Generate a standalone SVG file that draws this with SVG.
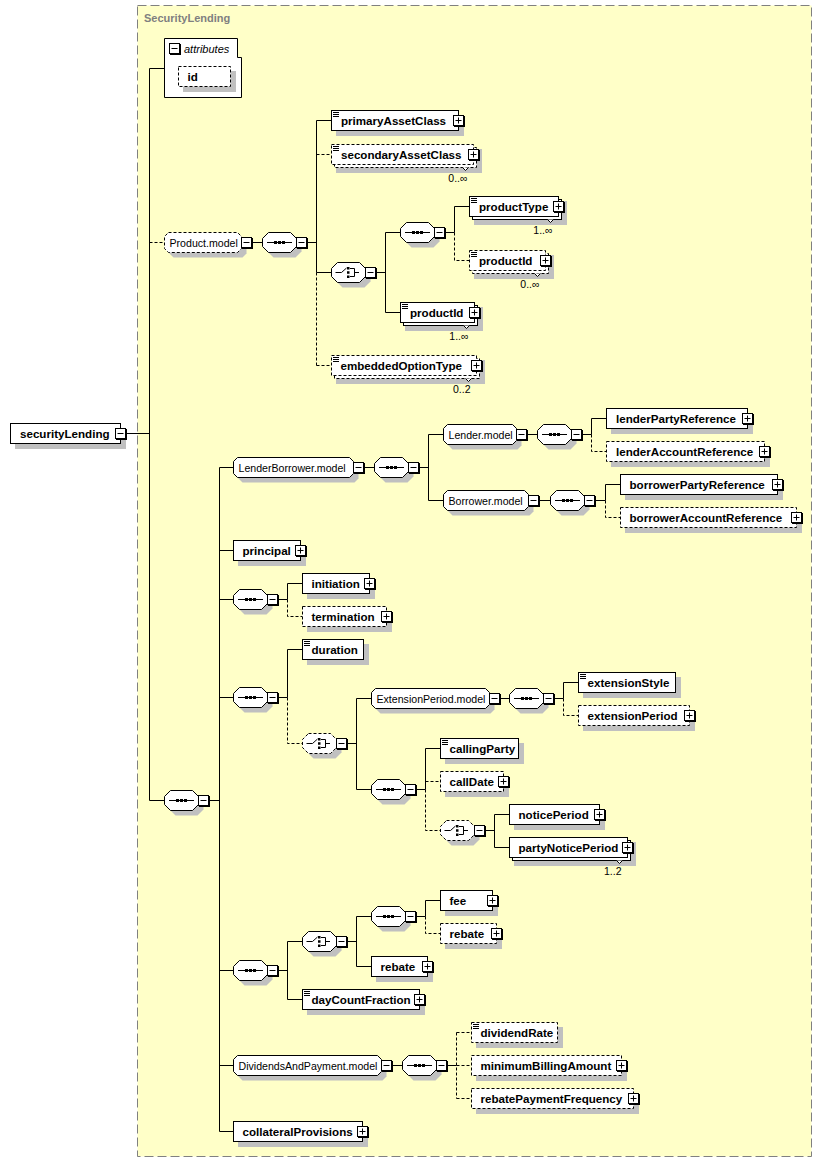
<svg xmlns="http://www.w3.org/2000/svg" width="823" height="1163" viewBox="0 0 823 1163">
<style>
.bg{fill:#fff}
.frame{fill:#ffffc8;stroke:#808080;stroke-dasharray:9 4}
.sh{fill:#c0c0c0}
.b{fill:#fff;stroke:#000}
.db{fill:#fff;stroke:#000;stroke-dasharray:3 2}
.c{fill:none;stroke:#000}
.dc{fill:none;stroke:#000;stroke-dasharray:3 2}
.ic{fill:none;stroke:#000}
.t{font-family:"Liberation Sans",Arial,sans-serif;font-weight:bold;font-size:11.6px;fill:#000}
.g{font-family:"Liberation Sans",Arial,sans-serif;font-size:10.6px;fill:#000}
.o{font-family:"Liberation Sans",Arial,sans-serif;font-size:10.5px;fill:#000;text-anchor:end}
.ti{font-family:"Liberation Sans",Arial,sans-serif;font-weight:bold;font-size:11px;fill:#808080}
.it{font-family:"Liberation Sans",Arial,sans-serif;font-style:italic;font-size:11px;fill:#000}
</style>
<defs>
<g id="minus"><rect x="1" y="1" width="11" height="11" fill="#000"/><rect x="0.5" y="0.5" width="10" height="10" fill="#fff" stroke="#000"/><path class="ic" d="M2.5,5.5H8.5"/></g>
<g id="plus"><rect x="1" y="1" width="11" height="11" fill="#000"/><rect x="0.5" y="0.5" width="10" height="10" fill="#fff" stroke="#000"/><path class="ic" d="M2.5,5.5H8.5M5.5,2.5V8.5"/></g>
<path id="eq" class="ic" d="M2,2.5H8M2,4.5H8M2,6.5H8"/>
<polygon id="octp" points="6.5,0.5 28.5,0.5 34.5,6.5 34.5,14.5 28.5,20.5 6.5,20.5 0.5,14.5 0.5,6.5"/>
<g id="seqicon"><path class="ic" d="M5,10.5H30"/><rect x="12" y="9" width="3" height="3"/><rect x="16" y="9" width="3" height="3"/><rect x="20" y="9" width="3" height="3"/></g>
<g id="choiceicon"><path class="ic" d="M4.5,10.5H10.5L15.5,6"/><rect x="16" y="5" width="2.5" height="2.5"/><rect x="16" y="9.25" width="2.5" height="2.5"/><rect x="16" y="13.5" width="2.5" height="2.5"/><path class="ic" d="M19,6.5H23.5V14.5H19M23.5,10.5H28"/></g>
<g id="seq"><use href="#octp" class="sh" transform="translate(5,5)"/><use href="#octp" class="b"/><use href="#seqicon"/><use href="#minus" x="34" y="5"/></g>
<g id="choice"><use href="#octp" class="sh" transform="translate(5,5)"/><use href="#octp" class="b"/><use href="#choiceicon"/><use href="#minus" x="34" y="5"/></g>
<g id="choiced"><use href="#octp" class="sh" transform="translate(5,5)"/><use href="#octp" class="db"/><use href="#choiceicon"/><use href="#minus" x="34" y="5"/></g>
</defs>
<rect class="bg" x="0" y="0" width="823" height="1163"/>
<g id="SecurityLending-type">
<rect class="frame" x="137.5" y="5.5" width="674" height="1151"/>
<text class="ti" x="144" y="22">SecurityLending</text>
</g>

<g id="connectors">
<path class="c" d="M126,433.5H149.5M149.5,68.5V800.5M149.5,68.5H164.5M149.5,800.5H164.5"/>
<path class="dc" d="M149.5,242.5H164.5"/>
<path class="c" d="M252,242.5H262.5M307,242.5H316.5M316.5,120.5V272.5M316.5,120.5H331.5M316.5,272.5H331.5"/>
<path class="dc" d="M316.5,272.5V365.5M316.5,154.5H331.5M316.5,365.5H331.5"/>
<path class="c" d="M376,272.5H385.5M385.5,232.5V312.5M385.5,232.5H400.5M385.5,312.5H400.5"/>
<path class="c" d="M446,232.5H454.5M454.5,206.5V232.5M454.5,206.5H469.5"/>
<path class="dc" d="M454.5,232.5V260.5H469.5"/>
<path class="c" d="M209,800.5H219.5M219.5,467.5V1131.5M219.5,467.5H233.5M219.5,550.5H233.5M219.5,599.5H233.5M219.5,697.5H233.5M219.5,970.5H233.5M219.5,1065.5H233.5M219.5,1131.5H233.5"/>
<path class="c" d="M364,467.5H374.5M419,467.5H428.5M428.5,434.5V500.5M428.5,434.5H443.5M428.5,500.5H443.5"/>
<path class="c" d="M527,434.5H537.5M582,434.5H591.5M591.5,418.5V434.5M591.5,418.5H606.5"/>
<path class="dc" d="M591.5,434.5V451.5H606.5"/>
<path class="c" d="M539,500.5H550.5M595,500.5H605.5M605.5,484.5V500.5M605.5,484.5H620.5"/>
<path class="dc" d="M605.5,500.5V517.5H620.5"/>
<path class="c" d="M278,599.5H287.5M287.5,583.5V599.5M287.5,583.5H302.5"/>
<path class="dc" d="M287.5,599.5V616.5H302.5"/>
<path class="c" d="M278,697.5H287.5M287.5,649.5V697.5M287.5,649.5H302.5"/>
<path class="dc" d="M287.5,697.5V743.5H302.5"/>
<path class="c" d="M347,743.5H356.5M356.5,698.5V789.5M356.5,698.5H371.5M356.5,789.5H371.5"/>
<path class="c" d="M500,698.5H509.5M554,698.5H563.5M563.5,682.5V698.5M563.5,682.5H578.5"/>
<path class="dc" d="M563.5,698.5V715.5H578.5"/>
<path class="c" d="M416,789.5H425.5M425.5,748.5V789.5M425.5,748.5H440.5"/>
<path class="dc" d="M425.5,789.5V830.5H440.5M425.5,781.5H440.5"/>
<path class="c" d="M485,830.5H494.5M494.5,814.5V847.5M494.5,814.5H509.5M494.5,847.5H509.5"/>
<path class="c" d="M278,970.5H287.5M287.5,941.5V999.5M287.5,941.5H302.5M287.5,999.5H302.5"/>
<path class="c" d="M347,941.5H356.5M356.5,916.5V966.5M356.5,916.5H371.5M356.5,966.5H371.5"/>
<path class="c" d="M416,916.5H425.5M425.5,900.5V916.5M425.5,900.5H440.5"/>
<path class="dc" d="M425.5,916.5V933.5H440.5"/>
<path class="c" d="M392,1065.5H402.5M447,1065.5H456.5"/>
<path class="dc" d="M456.5,1032.5V1098.5M456.5,1032.5H471.5M456.5,1065.5H471.5M456.5,1098.5H471.5"/>
</g>

<g id="securityLending"><rect class="sh" x="15" y="428" width="111" height="21"/><rect class="b" x="10.5" y="423.5" width="110" height="20"/><text class="t" x="20" y="437.5">securityLending</text><use href="#minus" x="115" y="428"/></g>

<g id="attributes">
<path class="b" d="M164.5,38.5H237.5V57.5H241.5V97.5H164.5Z"/>
<use href="#minus" x="169" y="43"/>
<text class="it" x="184" y="52.5">attributes</text>
</g>
<g id="attr-id"><rect class="sh" x="183" y="71" width="53" height="21"/><rect class="db" x="178.5" y="66.5" width="52" height="20"/><text class="t" x="187.5" y="80.5">id</text></g>

<g id="Product.model">
<polygon class="sh" transform="translate(5,5)" points="168.5,232.5 237.5,232.5 241.5,236.5 241.5,248.5 237.5,252.5 168.5,252.5 164.5,248.5 164.5,236.5"/>
<polygon class="db" points="168.5,232.5 237.5,232.5 241.5,236.5 241.5,248.5 237.5,252.5 168.5,252.5 164.5,248.5 164.5,236.5"/>
<text class="g" x="169.5" y="246.5">Product.model</text><use href="#minus" x="241" y="237"/>
</g>
<g id="seq-product" transform="translate(262,232)"><use href="#seq"/></g>

<g id="primaryAssetClass"><rect class="sh" x="336" y="115" width="128" height="21"/><rect class="b" x="331.5" y="110.5" width="127" height="20"/><use href="#eq" x="331" y="110"/><text class="t" x="341" y="124.5">primaryAssetClass</text><use href="#plus" x="453" y="115"/></g>

<g id="secondaryAssetClass"><rect class="sh" x="336" y="149" width="146" height="24"/><rect class="db" x="334.5" y="147.5" width="142" height="20"/><rect class="db" x="331.5" y="144.5" width="142" height="20"/><polyline class="b" points="462.5,167.5 465.5,170.5 468.5,167.5"/><use href="#eq" x="331" y="144"/><text class="t" x="341" y="158.5">secondaryAssetClass</text><use href="#plus" x="468" y="149"/><text class="o" x="467.5" y="181.5">0..∞</text></g>

<g id="choice-product" transform="translate(331,262)"><use href="#choice"/></g>
<g id="seq-productType" transform="translate(400,222)"><use href="#seq"/></g>

<g id="productType"><rect class="sh" x="474" y="201" width="93" height="24"/><rect class="b" x="472.5" y="199.5" width="89" height="20"/><rect class="b" x="469.5" y="196.5" width="89" height="20"/><polyline class="b" points="547.5,219.5 550.5,222.5 553.5,219.5"/><use href="#eq" x="469" y="196"/><text class="t" x="479" y="210.5">productType</text><use href="#plus" x="553" y="201"/><text class="o" x="552.5" y="233.5">1..∞</text></g>

<g id="productId-optional"><rect class="sh" x="474" y="255" width="80" height="24"/><rect class="db" x="472.5" y="253.5" width="76" height="20"/><rect class="db" x="469.5" y="250.5" width="76" height="20"/><polyline class="b" points="534.5,273.5 537.5,276.5 540.5,273.5"/><use href="#eq" x="469" y="250"/><text class="t" x="479" y="264.5">productId</text><use href="#plus" x="540" y="255"/><text class="o" x="539.5" y="287.5">0..∞</text></g>

<g id="productId"><rect class="sh" x="405" y="307" width="78" height="24"/><rect class="b" x="403.5" y="305.5" width="74" height="20"/><rect class="b" x="400.5" y="302.5" width="74" height="20"/><polyline class="b" points="463.5,325.5 466.5,328.5 469.5,325.5"/><use href="#eq" x="400" y="302"/><text class="t" x="410" y="316.5">productId</text><use href="#plus" x="469" y="307"/><text class="o" x="468.5" y="339.5">1..∞</text></g>

<g id="embeddedOptionType"><rect class="sh" x="336" y="360" width="149" height="24"/><rect class="db" x="334.5" y="358.5" width="145" height="20"/><rect class="db" x="331.5" y="355.5" width="145" height="20"/><polyline class="b" points="465.5,378.5 468.5,381.5 471.5,378.5"/><use href="#eq" x="331" y="355"/><text class="t" x="340.5" y="369.5">embeddedOptionType</text><use href="#plus" x="471" y="360"/><text class="o" x="470.5" y="392.5">0..2</text></g>

<g id="seq-main" transform="translate(164,790)"><use href="#seq"/></g>

<g id="LenderBorrower.model">
<polygon class="sh" transform="translate(5,5)" points="237.5,457.5 349.5,457.5 353.5,461.5 353.5,473.5 349.5,477.5 237.5,477.5 233.5,473.5 233.5,461.5"/>
<polygon class="b" points="237.5,457.5 349.5,457.5 353.5,461.5 353.5,473.5 349.5,477.5 237.5,477.5 233.5,473.5 233.5,461.5"/>
<text class="g" x="238.5" y="471.5">LenderBorrower.model</text><use href="#minus" x="353" y="462"/>
</g>
<g id="seq-lenderBorrower" transform="translate(374,457)"><use href="#seq"/></g>

<g id="Lender.model">
<polygon class="sh" transform="translate(5,5)" points="447.5,424.5 512.5,424.5 516.5,428.5 516.5,440.5 512.5,444.5 447.5,444.5 443.5,440.5 443.5,428.5"/>
<polygon class="b" points="447.5,424.5 512.5,424.5 516.5,428.5 516.5,440.5 512.5,444.5 447.5,444.5 443.5,440.5 443.5,428.5"/>
<text class="g" x="448.5" y="438.5">Lender.model</text><use href="#minus" x="516" y="429"/>
</g>
<g id="seq-lender" transform="translate(537,424)"><use href="#seq"/></g>
<g id="lenderPartyReference"><rect class="sh" x="611" y="413" width="142" height="21"/><rect class="b" x="606.5" y="408.5" width="141" height="20"/><text class="t" x="616" y="422.5">lenderPartyReference</text><use href="#plus" x="742" y="413"/></g>
<g id="lenderAccountReference"><rect class="sh" x="611" y="446" width="159" height="21"/><rect class="db" x="606.5" y="441.5" width="158" height="20"/><text class="t" x="616" y="455.5">lenderAccountReference</text><use href="#plus" x="759" y="446"/></g>

<g id="Borrower.model">
<polygon class="sh" transform="translate(5,5)" points="447.5,490.5 524.5,490.5 528.5,494.5 528.5,506.5 524.5,510.5 447.5,510.5 443.5,506.5 443.5,494.5"/>
<polygon class="b" points="447.5,490.5 524.5,490.5 528.5,494.5 528.5,506.5 524.5,510.5 447.5,510.5 443.5,506.5 443.5,494.5"/>
<text class="g" x="448.5" y="504.5">Borrower.model</text><use href="#minus" x="528" y="495"/>
</g>
<g id="seq-borrower" transform="translate(550,490)"><use href="#seq"/></g>
<g id="borrowerPartyReference"><rect class="sh" x="625" y="479" width="158" height="21"/><rect class="b" x="620.5" y="474.5" width="157" height="20"/><text class="t" x="629.5" y="488.5">borrowerPartyReference</text><use href="#plus" x="772" y="479"/></g>
<g id="borrowerAccountReference"><rect class="sh" x="625" y="512" width="177" height="21"/><rect class="db" x="620.5" y="507.5" width="176" height="20"/><text class="t" x="629.5" y="521.5">borrowerAccountReference</text><use href="#plus" x="791" y="512"/></g>

<g id="principal"><rect class="sh" x="238" y="545" width="68" height="21"/><rect class="b" x="233.5" y="540.5" width="67" height="20"/><text class="t" x="242.5" y="554.5">principal</text><use href="#plus" x="295" y="545"/></g>

<g id="seq-term" transform="translate(233,589)"><use href="#seq"/></g>
<g id="initiation"><rect class="sh" x="307" y="578" width="68" height="21"/><rect class="b" x="302.5" y="573.5" width="67" height="20"/><text class="t" x="311.5" y="587.5">initiation</text><use href="#plus" x="364" y="578"/></g>
<g id="termination"><rect class="sh" x="307" y="611" width="85" height="21"/><rect class="db" x="302.5" y="606.5" width="84" height="20"/><text class="t" x="311.5" y="620.5">termination</text><use href="#plus" x="381" y="611"/></g>

<g id="seq-duration" transform="translate(233,687)"><use href="#seq"/></g>
<g id="duration"><rect class="sh" x="307" y="644" width="62" height="21"/><rect class="b" x="302.5" y="639.5" width="61" height="20"/><use href="#eq" x="302" y="639"/><text class="t" x="311.5" y="653.5">duration</text></g>
<g id="choice-extension" transform="translate(302,733)"><use href="#choiced"/></g>

<g id="ExtensionPeriod.model">
<polygon class="sh" transform="translate(5,5)" points="375.5,688.5 485.5,688.5 489.5,692.5 489.5,704.5 485.5,708.5 375.5,708.5 371.5,704.5 371.5,692.5"/>
<polygon class="b" points="375.5,688.5 485.5,688.5 489.5,692.5 489.5,704.5 485.5,708.5 375.5,708.5 371.5,704.5 371.5,692.5"/>
<text class="g" x="376.5" y="702.5">ExtensionPeriod.model</text><use href="#minus" x="489" y="693"/>
</g>
<g id="seq-extensionPeriod" transform="translate(509,688)"><use href="#seq"/></g>
<g id="extensionStyle"><rect class="sh" x="583" y="677" width="98" height="21"/><rect class="b" x="578.5" y="672.5" width="97" height="20"/><use href="#eq" x="578" y="672"/><text class="t" x="587.5" y="686.5">extensionStyle</text></g>
<g id="extensionPeriod"><rect class="sh" x="583" y="710" width="112" height="21"/><rect class="db" x="578.5" y="705.5" width="111" height="20"/><text class="t" x="587.5" y="719.5">extensionPeriod</text><use href="#plus" x="684" y="710"/></g>

<g id="seq-call" transform="translate(371,779)"><use href="#seq"/></g>
<g id="callingParty"><rect class="sh" x="445" y="743" width="79" height="21"/><rect class="b" x="440.5" y="738.5" width="78" height="20"/><use href="#eq" x="440" y="738"/><text class="t" x="449.5" y="752.5">callingParty</text></g>
<g id="callDate"><rect class="sh" x="445" y="776" width="64" height="21"/><rect class="db" x="440.5" y="771.5" width="63" height="20"/><text class="t" x="449.5" y="785.5">callDate</text><use href="#plus" x="498" y="776"/></g>
<g id="choice-notice" transform="translate(440,820)"><use href="#choiced"/></g>
<g id="noticePeriod"><rect class="sh" x="514" y="809" width="91" height="21"/><rect class="b" x="509.5" y="804.5" width="90" height="20"/><text class="t" x="518.5" y="818.5">noticePeriod</text><use href="#plus" x="594" y="809"/></g>
<g id="partyNoticePeriod"><rect class="sh" x="514" y="842" width="122" height="24"/><rect class="b" x="512.5" y="840.5" width="118" height="20"/><rect class="b" x="509.5" y="837.5" width="118" height="20"/><polyline class="b" points="616.5,860.5 619.5,863.5 622.5,860.5"/><text class="t" x="518.5" y="851.5">partyNoticePeriod</text><use href="#plus" x="622" y="842"/><text class="o" x="621.5" y="874.5">1..2</text></g>

<g id="seq-fee" transform="translate(233,960)"><use href="#seq"/></g>
<g id="choice-fee" transform="translate(302,931)"><use href="#choice"/></g>
<g id="seq-feeRebate" transform="translate(371,906)"><use href="#seq"/></g>
<g id="fee"><rect class="sh" x="445" y="895" width="53" height="21"/><rect class="b" x="440.5" y="890.5" width="52" height="20"/><text class="t" x="449.5" y="904.5">fee</text><use href="#plus" x="487" y="895"/></g>
<g id="rebate-optional"><rect class="sh" x="445" y="928" width="57" height="21"/><rect class="db" x="440.5" y="923.5" width="56" height="20"/><text class="t" x="449.5" y="937.5">rebate</text><use href="#plus" x="491" y="928"/></g>
<g id="rebate"><rect class="sh" x="376" y="961" width="57" height="21"/><rect class="b" x="371.5" y="956.5" width="56" height="20"/><text class="t" x="380.5" y="970.5">rebate</text><use href="#plus" x="422" y="961"/></g>
<g id="dayCountFraction"><rect class="sh" x="307" y="994" width="118" height="21"/><rect class="b" x="302.5" y="989.5" width="117" height="20"/><use href="#eq" x="302" y="989"/><text class="t" x="311.5" y="1003.5">dayCountFraction</text><use href="#plus" x="414" y="994"/></g>

<g id="DividendsAndPayment.model">
<polygon class="sh" transform="translate(5,5)" points="237.5,1055.5 377.5,1055.5 381.5,1059.5 381.5,1071.5 377.5,1075.5 237.5,1075.5 233.5,1071.5 233.5,1059.5"/>
<polygon class="b" points="237.5,1055.5 377.5,1055.5 381.5,1059.5 381.5,1071.5 377.5,1075.5 237.5,1075.5 233.5,1071.5 233.5,1059.5"/>
<text class="g" x="238.5" y="1069.5">DividendsAndPayment.model</text><use href="#minus" x="381" y="1060"/>
</g>
<g id="seq-dividends" transform="translate(402,1055)"><use href="#seq"/></g>
<g id="dividendRate"><rect class="sh" x="476" y="1027" width="87" height="21"/><rect class="db" x="471.5" y="1022.5" width="86" height="20"/><use href="#eq" x="471" y="1022"/><text class="t" x="480.5" y="1036.5">dividendRate</text></g>
<g id="minimumBillingAmount"><rect class="sh" x="476" y="1060" width="151" height="21"/><rect class="db" x="471.5" y="1055.5" width="150" height="20"/><text class="t" x="480.5" y="1069.5">minimumBillingAmount</text><use href="#plus" x="616" y="1060"/></g>
<g id="rebatePaymentFrequency"><rect class="sh" x="476" y="1093" width="163" height="21"/><rect class="db" x="471.5" y="1088.5" width="162" height="20"/><text class="t" x="480.5" y="1102.5">rebatePaymentFrequency</text><use href="#plus" x="628" y="1093"/></g>

<g id="collateralProvisions"><rect class="sh" x="238" y="1126" width="130" height="21"/><rect class="b" x="233.5" y="1121.5" width="129" height="20"/><text class="t" x="242.5" y="1135.5">collateralProvisions</text><use href="#plus" x="357" y="1126"/></g>
</svg>
